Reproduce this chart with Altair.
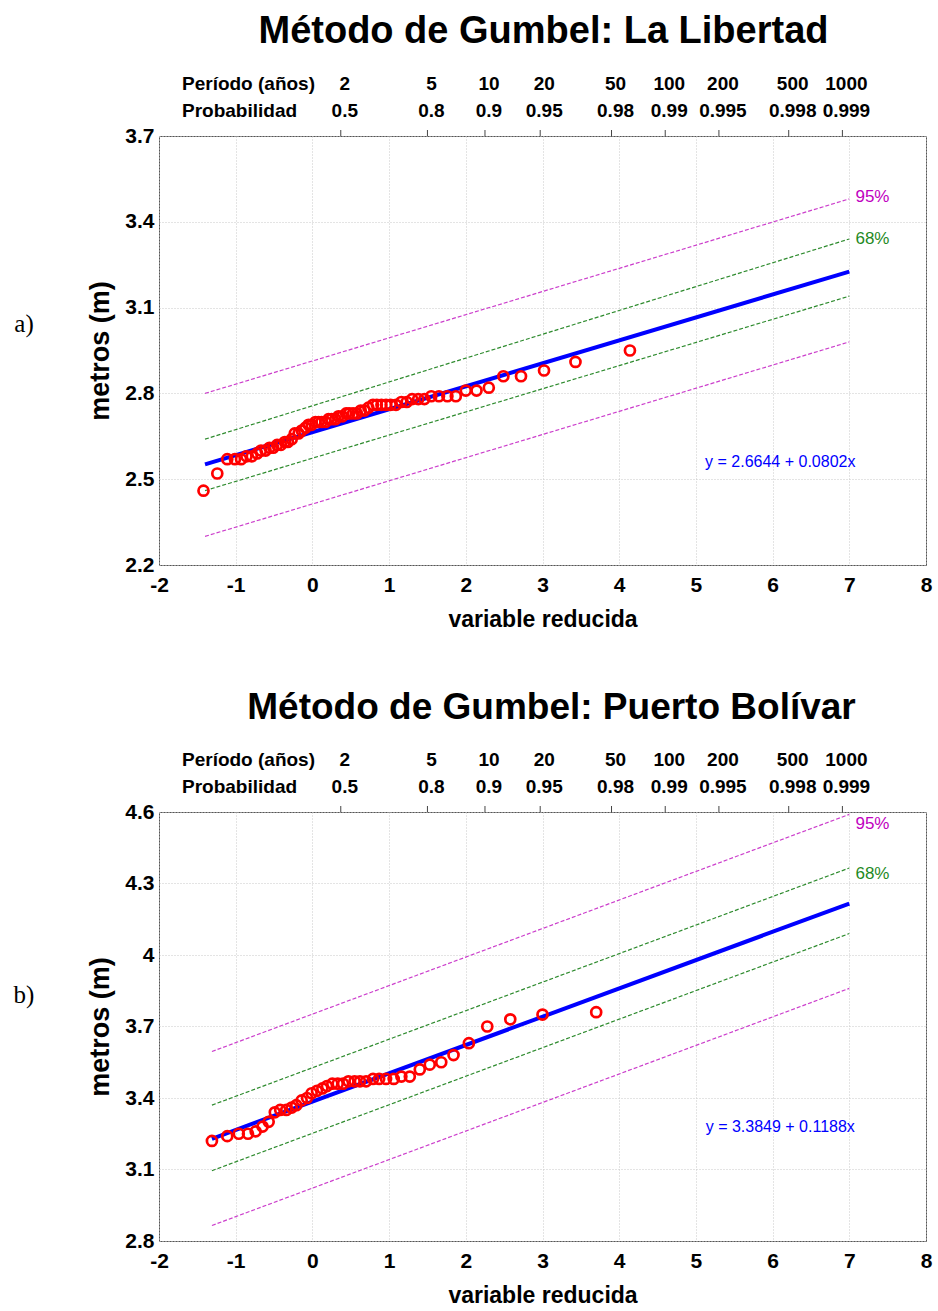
import altair as alt
import pandas as pd

FONT = "Liberation Sans, Arial, sans-serif"

# ---------------- Panel a) La Libertad ----------------
a_x = [-1.42, -1.24, -1.11, -1.01, -0.93, -0.86, -0.79, -0.72, -0.67, -0.61,
       -0.56, -0.51, -0.46, -0.41, -0.36, -0.32, -0.27, -0.23, -0.18, -0.14,
       -0.09, -0.05, -0.01, 0.04, 0.08, 0.12, 0.17, 0.21, 0.25, 0.30,
       0.34, 0.39, 0.44, 0.48, 0.53, 0.58, 0.63, 0.68, 0.73, 0.79,
       0.84, 0.90, 0.96, 1.02, 1.09, 1.16, 1.23, 1.30, 1.38, 1.46,
       1.55, 1.65, 1.76, 1.87, 2.00, 2.14, 2.30, 2.49, 2.72, 3.02,
       3.43, 4.14]
a_y = [2.46, 2.52, 2.57, 2.57, 2.57, 2.58, 2.58, 2.59, 2.60, 2.60,
       2.61, 2.61, 2.62, 2.62, 2.63, 2.63, 2.64, 2.66, 2.66, 2.67,
       2.68, 2.69, 2.69, 2.70, 2.70, 2.70, 2.70, 2.71, 2.71, 2.71,
       2.72, 2.72, 2.73, 2.73, 2.73, 2.73, 2.74, 2.74, 2.75, 2.76,
       2.76, 2.76, 2.76, 2.76, 2.76, 2.77, 2.77, 2.78, 2.78, 2.78,
       2.79, 2.79, 2.79, 2.79, 2.81, 2.81, 2.82, 2.86, 2.86, 2.88,
       2.91, 2.95]
a_fit_x = [-1.40, 7.0]
a_fit_y = [2.552, 3.226]
a_band_x = [-1.40, 7.0]
a_up95 = [2.80, 3.48]
a_up68 = [2.64, 3.34]
a_lo68 = [2.46, 3.14]
a_lo95 = [2.30, 2.98]
a_yticks = [2.2, 2.5, 2.8, 3.1, 3.4, 3.7]

# ---------------- Panel b) Puerto Bolívar ----------------
b_x = [-1.31, -1.11, -0.96, -0.84, -0.74, -0.65, -0.57, -0.49, -0.42, -0.34,
       -0.27, -0.21, -0.14, -0.07, -0.01, 0.06, 0.13, 0.19, 0.26, 0.33,
       0.40, 0.47, 0.55, 0.62, 0.70, 0.79, 0.87, 0.96, 1.06, 1.16,
       1.27, 1.40, 1.53, 1.68, 1.84, 2.04, 2.28, 2.58, 3.00, 3.70]
b_y = [3.22, 3.24, 3.25, 3.25, 3.26, 3.28, 3.30, 3.34, 3.35, 3.35,
       3.36, 3.37, 3.39, 3.40, 3.42, 3.43, 3.44, 3.45, 3.46, 3.46,
       3.46, 3.47, 3.47, 3.47, 3.47, 3.48, 3.48, 3.48, 3.48, 3.49,
       3.49, 3.52, 3.54, 3.55, 3.58, 3.63, 3.70, 3.73, 3.75, 3.76]
b_fit_x = [-1.31, 7.0]
b_fit_y = [3.229, 4.216]
b_band_x = [-1.31, 7.0]
b_up95 = [3.595, 4.59]
b_up68 = [3.37, 4.365]
b_lo68 = [3.095, 4.09]
b_lo95 = [2.865, 3.86]
b_yticks = [2.8, 3.1, 3.4, 3.7, 4.0, 4.3, 4.6]

# ---------------- top (return period) axis ----------------
top_pos = [0.37, 1.50, 2.25, 2.97, 3.90, 4.60, 5.30, 6.21, 6.91]
top_periodo = ["2", "5", "10", "20", "50", "100", "200", "500", "1000"]
top_prob = ["0.5", "0.8", "0.9", "0.95", "0.98", "0.99", "0.995", "0.998", "0.999"]

MAGENTA = "#cc3fcc"
GREEN = "#2e8b2e"


def panel(title, title_size, title_dx, xs, ys, fit_x, fit_y, band_x, up95, up68, lo68, lo95,
          ydom, yticks, eq, eq_xy, p95_xy, p68_xy, letter, letter_y):
    xscale = alt.Scale(domain=[-2, 8], nice=False, zero=False)
    yscale = alt.Scale(domain=ydom, nice=False, zero=False)

    xaxis = alt.Axis(values=list(range(-2, 9)), labelExpr="'' + datum.value",
                     title="variable reducida",
                     labelFont=FONT, labelFontSize=21, labelFontWeight="bold",
                     labelColor="black", titleFont=FONT, titleFontSize=23,
                     titleFontWeight="bold", titleColor="black", grid=True,
                     gridColor="#c8c8c8", gridDash=[1, 2], ticks=False, domain=False,
                     labelPadding=9, titlePadding=13, labelFlush=False)
    yaxis = alt.Axis(values=yticks, format=".1~f", title="metros (m)",
                     labelFont=FONT, labelFontSize=21, labelFontWeight="bold",
                     labelColor="black", titleFont=FONT, titleFontSize=27,
                     titleFontWeight="bold", titleColor="black", grid=True,
                     gridColor="#c8c8c8", gridDash=[1, 2], ticks=False, domain=False,
                     labelPadding=5, titlePadding=10, labelFlush=False)

    X = lambda f: alt.X(f, scale=xscale, axis=xaxis)
    Y = lambda f: alt.Y(f, scale=yscale, axis=yaxis)

    rows = []
    for name, kind, vals in [("u95", "95%", up95), ("u68", "68%", up68),
                             ("l68", "68%", lo68), ("l95", "95%", lo95)]:
        for xv, yv in zip(band_x, vals):
            rows.append({"x": xv, "y": yv, "band": name, "kind": kind})
    band_df = pd.DataFrame(rows)

    bands = alt.Chart(band_df).mark_line(strokeWidth=1.2, strokeDash=[4, 2]).encode(
        x=X("x:Q"), y=Y("y:Q"),
        color=alt.Color("kind:N", scale=alt.Scale(domain=["95%", "68%"],
                                                  range=[MAGENTA, GREEN]), legend=None),
        detail="band:N",
    )

    fit = alt.Chart(pd.DataFrame({"x": fit_x, "y": fit_y})).mark_line(
        color="#0000ff", strokeWidth=4).encode(x=X("x:Q"), y=Y("y:Q"))

    pts = alt.Chart(pd.DataFrame({"x": xs, "y": ys})).mark_point(
        shape="circle", filled=False, color="#ff0000", size=100, strokeWidth=2.7,
        opacity=1).encode(x=X("x:Q"), y=Y("y:Q"))

    top_df = pd.DataFrame({"x": top_pos, "periodo": top_periodo, "prob": top_prob})
    top_ticks = alt.Chart(top_df).mark_rule(color="#444", strokeWidth=1).encode(
        x=X("x:Q"), y=alt.value(-6), y2=alt.value(0),
    )
    top_per = alt.Chart(top_df).mark_text(
        font=FONT, fontSize=19, fontWeight="bold", color="black", dx=4).encode(
        x=X("x:Q"), y=alt.value(-52), text="periodo:N",
    )
    top_prb = alt.Chart(top_df).mark_text(
        font=FONT, fontSize=19, fontWeight="bold", color="black", dx=4).encode(
        x=X("x:Q"), y=alt.value(-25), text="prob:N",
    )
    head1 = alt.Chart(pd.DataFrame({"t": ["Período (años)"]})).mark_text(
        font=FONT, fontSize=19, fontWeight="bold", color="black", align="left").encode(
        x=alt.value(23), y=alt.value(-52), text="t:N")
    head2 = alt.Chart(pd.DataFrame({"t": ["Probabilidad"]})).mark_text(
        font=FONT, fontSize=19, fontWeight="bold", color="black", align="left").encode(
        x=alt.value(23), y=alt.value(-25), text="t:N")

    ann_df = pd.DataFrame({
        "x": [eq_xy[0], p95_xy[0], p68_xy[0]],
        "y": [eq_xy[1], p95_xy[1], p68_xy[1]],
        "t": [eq, "95%", "68%"],
    })
    eq_txt = alt.Chart(ann_df.iloc[[0]]).mark_text(
        font=FONT, fontSize=16, color="#0000ff").encode(
        x=X("x:Q"), y=Y("y:Q"), text="t:N")
    pct_txt = alt.Chart(ann_df.iloc[[1, 2]]).mark_text(
        font=FONT, fontSize=17, align="left").encode(
        x=X("x:Q"), y=Y("y:Q"), text="t:N",
        color=alt.Color("t:N", scale=alt.Scale(domain=["95%", "68%"],
                                               range=["#c000c0", "#1f8a1f"]), legend=None))
    let = alt.Chart(pd.DataFrame({"t": [letter]})).mark_text(
        font="Liberation Serif, DejaVu Serif, serif", fontSize=25, color="black").encode(
        x=alt.value(-135), y=alt.value(letter_y), text="t:N")

    return alt.layer(bands, fit, pts, top_ticks, top_per, top_prb, head1, head2,
                     eq_txt, pct_txt, let).resolve_scale(color="independent").properties(
        width=767, height=429,
        title=alt.TitleParams(title, font=FONT, fontSize=title_size, fontWeight="bold",
                              color="black", anchor="middle", offset=24, dx=title_dx),
    )


pa = panel("Método de Gumbel: La Libertad", 38, 1, a_x, a_y, a_fit_x, a_fit_y, a_band_x,
           a_up95, a_up68, a_lo68, a_lo95, [2.2, 3.7], a_yticks,
           "y = 2.6644 + 0.0802x", (6.1, 2.56), (7.08, 3.487), (7.08, 3.34), "a)", 188)
pb = panel("Método de Gumbel: Puerto Bolívar", 37, 9, b_x, b_y, b_fit_x, b_fit_y, b_band_x,
           b_up95, b_up68, b_lo68, b_lo95, [2.8, 4.6], b_yticks,
           "y = 3.3849 + 0.1188x", (6.1, 3.28), (7.08, 4.55), (7.08, 4.34), "b)", 183)

chart = alt.vconcat(pa, pb, spacing=56).properties(
    padding={"left": 13, "top": 12, "right": 5, "bottom": 5}
).configure_view(stroke="#555", strokeWidth=1)

chart.save("out.html", embed_options={"renderer": "svg", "actions": False})
